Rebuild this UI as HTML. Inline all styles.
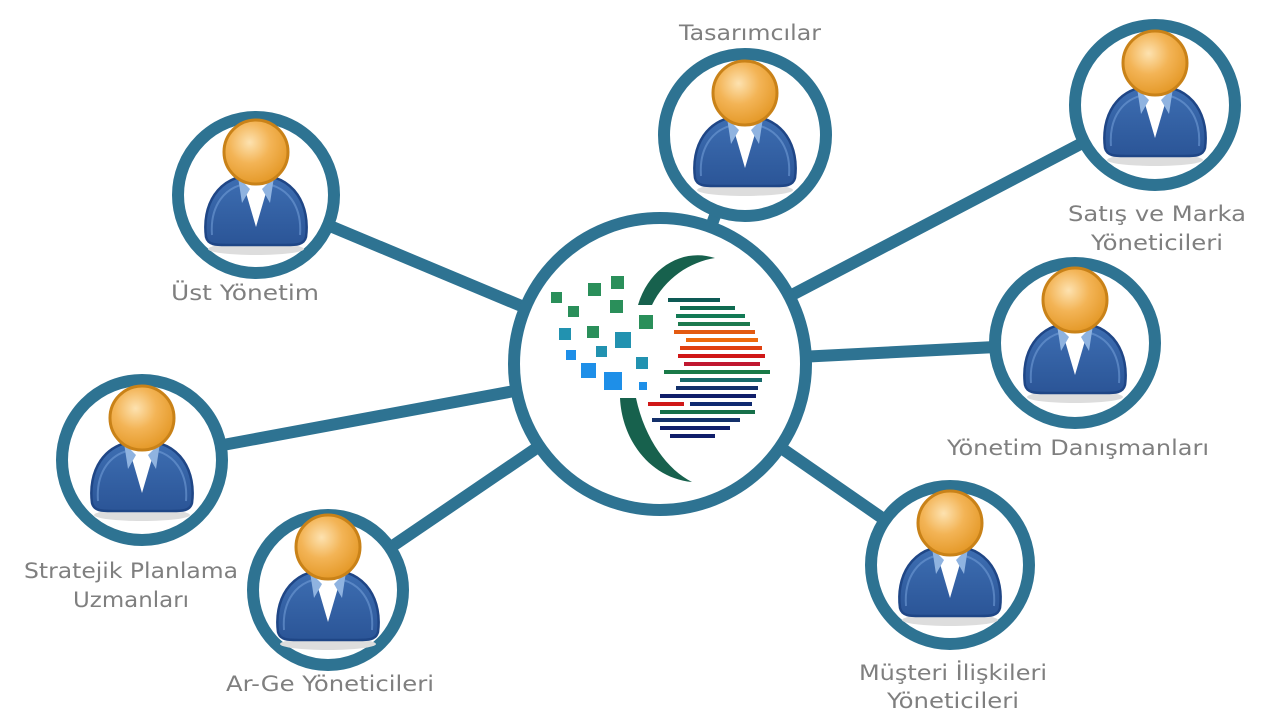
<!DOCTYPE html>
<html><head><meta charset="utf-8"><style>html,body{margin:0;padding:0;background:#fff}svg{display:block}</style></head>
<body>
<svg width="1280" height="720" viewBox="0 0 1280 720" xmlns="http://www.w3.org/2000/svg">
<defs>
<radialGradient id="hg" cx="0.4" cy="0.35" r="0.65">
<stop offset="0" stop-color="#fde2b0"/><stop offset="0.5" stop-color="#f3b456"/><stop offset="1" stop-color="#e59a2a"/></radialGradient>
<linearGradient id="bg" x1="0" y1="0" x2="0" y2="1"><stop offset="0" stop-color="#3e6fb3"/><stop offset="1" stop-color="#2b5597"/></linearGradient>
<g id="p">
<ellipse cx="0" cy="52" rx="48" ry="6" fill="#ddd"/>
<path d="M-50,40 C-54,10 -40,-22 0,-22 C40,-22 54,10 50,40 C48,48 40,48 30,48 L-30,48 C-40,48 -48,48 -50,40Z" fill="url(#bg)" stroke="#1f4686" stroke-width="2.5"/>
<path d="M-44,38 C-46,12 -34,-14 0,-14 C34,-14 46,12 44,38" fill="none" stroke="#6f9bd6" stroke-width="2" opacity="0.6"/>
<path d="M-14,-18 L0,30 L14,-18Z" fill="#fff"/>
<path d="M-18,-20 L-6,-8 L-14,6Z M18,-20 L6,-8 L14,6Z" fill="#8fb3e0"/>
<circle cx="0" cy="-45" r="32" fill="url(#hg)" stroke="#c98218" stroke-width="3"/>
</g>
</defs>
<g stroke="#2e7392" stroke-width="12" stroke-linecap="butt">
<line x1="660" y1="364" x2="256" y2="195"/>
<line x1="660" y1="364" x2="745" y2="135"/>
<line x1="660" y1="364" x2="1155" y2="105"/>
<line x1="660" y1="364" x2="1075" y2="343"/>
<line x1="660" y1="364" x2="950" y2="565"/>
<line x1="660" y1="364" x2="328" y2="590"/>
<line x1="660" y1="364" x2="142" y2="460"/>
</g>
<g fill="#fff" stroke="#2e7392" stroke-width="12">
<circle cx="660" cy="364" r="146"/>
<circle cx="256" cy="195" r="78"/>
<circle cx="745" cy="135" r="81"/>
<circle cx="1155" cy="105" r="80"/>
<circle cx="1075" cy="343" r="80"/>
<circle cx="950" cy="565" r="79"/>
<circle cx="328" cy="590" r="75"/>
<circle cx="142" cy="460" r="80"/>
</g>
<use href="#p" x="256" y="197"/>
<use href="#p" x="745" y="138"/>
<use href="#p" x="1155" y="108"/>
<use href="#p" x="1075" y="345"/>
<use href="#p" x="950" y="568"/>
<use href="#p" x="328" y="592"/>
<use href="#p" x="142" y="463"/>
<g>
<path d="M638,305 C650,265 685,248 715,258 C690,262 665,278 652,305Z" fill="#17614d"/>
<path d="M620,398 C622,440 650,478 692,482 C668,470 645,440 636,398Z" fill="#17614d"/>
<g fill="#2a8f5a">
<rect x="551" y="292" width="11" height="11"/><rect x="568" y="306" width="11" height="11"/>
<rect x="588" y="283" width="13" height="13"/><rect x="611" y="276" width="13" height="13"/>
<rect x="610" y="300" width="13" height="13"/><rect x="639" y="315" width="14" height="14"/>
<rect x="587" y="326" width="12" height="12"/>
</g>
<g fill="#2292b0">
<rect x="559" y="328" width="12" height="12"/><rect x="615" y="332" width="16" height="16"/>
<rect x="636" y="357" width="12" height="12"/><rect x="596" y="346" width="11" height="11"/>
</g>
<g fill="#1e8fe8">
<rect x="566" y="350" width="10" height="10"/><rect x="581" y="363" width="15" height="15"/>
<rect x="604" y="372" width="18" height="18"/><rect x="639" y="382" width="8" height="8"/>
</g>
<g stroke-width="4">
<line x1="668" y1="300" x2="720" y2="300" stroke="#0e5a55"/>
<line x1="680" y1="308" x2="735" y2="308" stroke="#0f6a50"/>
<line x1="676" y1="316" x2="745" y2="316" stroke="#137a55"/>
<line x1="678" y1="324" x2="750" y2="324" stroke="#1d7a4e"/>
<line x1="674" y1="332" x2="755" y2="332" stroke="#e35a10"/>
<line x1="686" y1="340" x2="758" y2="340" stroke="#ee6a0c"/>
<line x1="680" y1="348" x2="762" y2="348" stroke="#e04010"/>
<line x1="678" y1="356" x2="765" y2="356" stroke="#d01818"/>
<line x1="684" y1="364" x2="760" y2="364" stroke="#c01830"/>
<line x1="664" y1="372" x2="770" y2="372" stroke="#1a7a48"/>
<line x1="680" y1="380" x2="762" y2="380" stroke="#186a6a"/>
<line x1="676" y1="388" x2="758" y2="388" stroke="#12306a"/>
<line x1="660" y1="396" x2="756" y2="396" stroke="#101e6a"/>
<line x1="648" y1="404" x2="684" y2="404" stroke="#d01818"/>
<line x1="690" y1="404" x2="752" y2="404" stroke="#0f2a70"/>
<line x1="660" y1="412" x2="755" y2="412" stroke="#17704a"/>
<line x1="652" y1="420" x2="740" y2="420" stroke="#14306a"/>
<line x1="660" y1="428" x2="730" y2="428" stroke="#101e6a"/>
<line x1="670" y1="436" x2="715" y2="436" stroke="#101e6a"/>
</g>
</g>
<g font-family="'DejaVu Sans','Liberation Sans',sans-serif" font-size="21" fill="#7f7f7f" text-anchor="middle">
<text x="245" y="300" textLength="148" lengthAdjust="spacingAndGlyphs">Üst Yönetim</text>
<text x="750" y="40" textLength="142" lengthAdjust="spacingAndGlyphs">Tasarımcılar</text>
<text x="1157" y="221" textLength="178" lengthAdjust="spacingAndGlyphs">Satış ve Marka</text>
<text x="1157" y="250" textLength="132" lengthAdjust="spacingAndGlyphs">Yöneticileri</text>
<text x="1078" y="455" textLength="262" lengthAdjust="spacingAndGlyphs">Yönetim Danışmanları</text>
<text x="953" y="680" textLength="188" lengthAdjust="spacingAndGlyphs">Müşteri İlişkileri</text>
<text x="953" y="708" textLength="132" lengthAdjust="spacingAndGlyphs">Yöneticileri</text>
<text x="330" y="691" textLength="208" lengthAdjust="spacingAndGlyphs">Ar-Ge Yöneticileri</text>
<text x="131" y="578" textLength="214" lengthAdjust="spacingAndGlyphs">Stratejik Planlama</text>
<text x="131" y="607" textLength="116" lengthAdjust="spacingAndGlyphs">Uzmanları</text>
</g>
</svg>
</body></html>
